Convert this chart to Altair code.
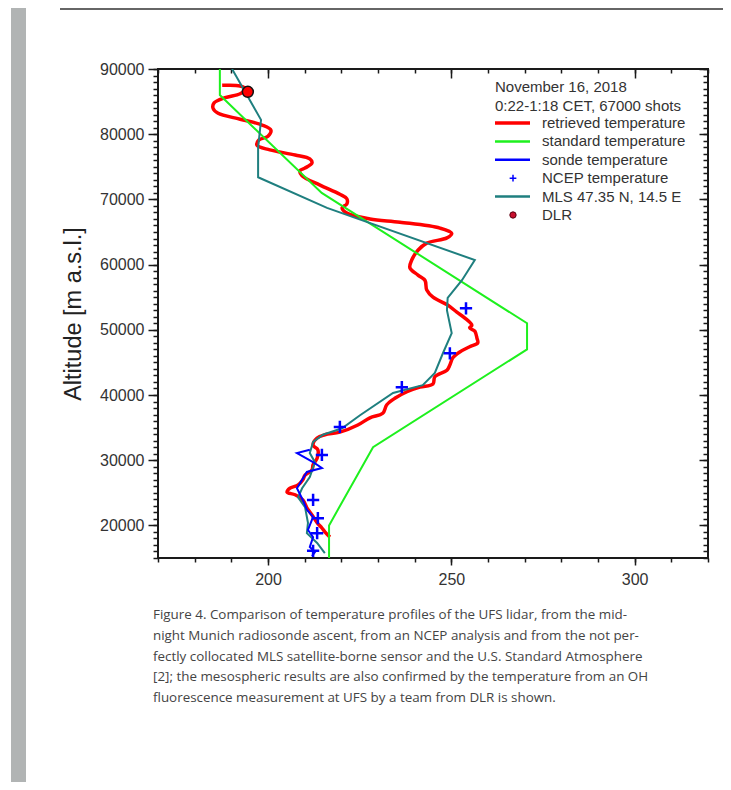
import altair as alt
import pandas as pd

# ---------------- data (temperature in K, altitude in m a.s.l.) ----------------
ret_T = [187.5, 192.4, 194.0, 192.4, 188.3, 185.3, 185.0, 186.4, 192.4, 198.4,
         200.8, 200.0, 197.5, 197.0, 200.5, 207.4, 211.4, 212.0, 210.1, 208.7,
         209.3, 214.2, 219.6, 221.5, 221.5, 220.2, 221.5, 227.8, 236.0, 246.9,
         250.1, 248.8, 243.3, 240.9, 239.2, 238.7, 240.9, 242.8, 243.3, 245.0,
         249.0, 251.5, 253.7, 255.6, 255.0, 256.4, 257.0, 257.2, 255.0, 252.3,
         250.4, 249.6, 248.8, 245.5, 245.0, 241.4, 237.9, 234.6, 232.4, 231.3,
         227.8, 224.5, 219.6, 215.5, 213.4, 212.3, 213.6, 213.4, 212.3, 212.0,
         210.1, 209.5, 208.2, 206.0, 205.2, 207.4, 209.5, 210.6, 212.0, 213.4,
         214.7, 215.5, 216.9]
ret_H = [87500, 87400, 86900, 86200, 85600, 84800, 84000, 83200, 82300, 81400,
         80600, 79700, 79100, 78300, 77600, 76800, 76200, 75600, 74800, 74400,
         73600, 72200, 70800, 70100, 69300, 68700, 67900, 67000, 66500, 65600,
         64800, 64100, 63300, 62200, 60700, 59500, 58400, 57600, 56100, 55000,
         53800, 52700, 51800, 50700, 50300, 49800, 48700, 48000, 47400, 46600,
         45700, 44600, 43800, 42800, 41700, 41200, 40500, 39500, 38500, 37200,
         36500, 35400, 34300, 33900, 33400, 32300, 31600, 30300, 29300, 28500,
         27700, 27000, 26200, 25700, 25100, 24700, 23900, 22700, 21600, 20400,
         19600, 19000, 18200]

std_T = [186.87, 186.87, 214.65, 270.65, 270.65, 228.65, 216.65, 216.65]
std_H = [90000, 86000, 71000, 51000, 47000, 32000, 20000, 15000]

sonde_T = [211.4, 207.9, 212.3, 214.7, 210.6, 209.3, 207.9, 209.5, 210.6, 212.3,
           210.9, 212.3, 211.4, 212.8, 212.0]
sonde_H = [31600, 31100, 29700, 28800, 28200, 27000, 25700, 23900, 22400, 21300,
           19300, 18200, 16700, 15900, 15300]

ncep_T = [254.0, 249.6, 236.5, 219.6, 214.7, 212.3, 213.6, 213.4, 212.3]
ncep_H = [53300, 46400, 41200, 35100, 30800, 23900, 21100, 18800, 16100]

mls_T = [190.2, 198.1, 197.3, 197.3, 216.1, 256.4, 252.9, 249.0, 248.8, 250.1,
         247.7, 245.5, 242.2, 234.1, 225.1, 220.2, 215.0, 212.3, 211.4, 212.8,
         211.4, 209.3, 208.2, 210.1, 210.9, 210.6, 213.4, 215.5]
mls_H = [90000, 82200, 77900, 73400, 68700, 60700, 57600, 54900, 53000, 49500,
         46400, 43400, 41500, 40300, 36900, 34900, 33900, 32800, 31100, 29700,
         27400, 25700, 24300, 22800, 20400, 18800, 17300, 15750]

dlr_T = [194.5]
dlr_H = [86500]

x_major = [200, 250, 300]
x_minor = list(range(170, 321, 10))
y_major = list(range(20000, 90001, 10000))
y_minor = list(range(15000, 90001, 1000))

legend_header = ["November 16, 2018", "0:22-1:18 CET, 67000 shots"]
legend_labels = ["retrieved temperature", "standard temperature", "sonde temperature",
                 "NCEP temperature", "MLS 47.35 N, 14.5 E", "DLR"]

caption = [
    "Figure 4. Comparison of temperature profiles of the UFS lidar, from the mid-",
    "night Munich radiosonde ascent, from an NCEP analysis and from the not per-",
    "fectly collocated MLS satellite-borne sensor and the U.S. Standard Atmosphere",
    "[2]; the mesospheric results are also confirmed by the temperature from an OH",
    "fluorescence measurement at UFS by a team from DLR is shown.",
]

# ---------------- styling ----------------
FONT = "Liberation Sans"
RED, GREEN, BLUE, TEAL = "#ff0000", "#1ef01e", "#0000ff", "#1f7f7f"
TICK = "#1a1a1a"
PLUS = "M -1 0 L 1 0 M 0 -1 L 0 1"


def frame(T, H):
    return pd.DataFrame({"T": T, "H": H, "i": list(range(len(T)))})


x_scale = alt.Scale(domain=[170, 320], nice=False, zero=False)
y_scale = alt.Scale(domain=[15000, 90000], nice=False, zero=False)


def ax(orient, values, size, offset=0, **kw):
    d = dict(orient=orient, values=values, tickSize=size, tickWidth=1.5,
             tickColor=TICK, labels=False, domain=False, grid=False, title=None,
             offset=offset)
    d.update(kw)
    return alt.Axis(**d)


ax_bottom_major = ax("bottom", x_major, 7, labels=True, labelFont=FONT,
                     labelFontSize=16, labelColor="#333", labelPadding=6, format="d")
ax_bottom_minor = ax("bottom", x_minor, 4)
ax_top_major = ax("top", x_major, 9, offset=-9)
ax_top_minor = ax("top", x_minor, 4, offset=-4)
ax_left_major = ax("left", y_major, 10, labels=True, labelFont=FONT,
                   labelFontSize=16, labelColor="#333", labelPadding=4, format="d",
                   title="Altitude [m a.s.l.]", titleFont=FONT, titleFontSize=23.5,
                   titleFontWeight="normal", titleColor="#222", titlePadding=14)
ax_left_minor = ax("left", y_minor, 5)
ax_right_major = ax("right", y_major, 9, offset=-9)
ax_right_minor = ax("right", y_minor, 5, offset=-5)


def profile(df, color, width, xa, ya, interp="linear"):
    return alt.Chart(df).mark_line(color=color, strokeWidth=width, clip=True,
                                   interpolate=interp).encode(
        x=alt.X("T:Q", scale=x_scale, axis=xa),
        y=alt.Y("H:Q", scale=y_scale, axis=ya),
        order="i:Q",
    )


red = profile(frame(ret_T, ret_H), RED, 3.5, ax_bottom_major, ax_left_major,
              "catmull-rom")
green = profile(frame(std_T, std_H), GREEN, 2, ax_bottom_minor, ax_left_minor)
teal = profile(frame(mls_T, mls_H), TEAL, 2, ax_top_major, ax_right_major)
blue = profile(frame(sonde_T, sonde_H), BLUE, 2, ax_top_minor, ax_right_minor)

ncep = alt.Chart(frame(ncep_T, ncep_H)).mark_point(
    shape=PLUS, size=150, strokeWidth=2.5, color=BLUE, filled=False, opacity=1
).encode(x=alt.X("T:Q", scale=x_scale, axis=None),
         y=alt.Y("H:Q", scale=y_scale, axis=None))

dlr = alt.Chart(frame(dlr_T, dlr_H)).mark_point(
    shape="circle", size=120, filled=True, fill=RED, stroke="#111",
    strokeWidth=1.5, opacity=1
).encode(x=alt.X("T:Q", scale=x_scale, axis=None),
         y=alt.Y("H:Q", scale=y_scale, axis=None))

one = pd.DataFrame({"k": [0]})
deco = []

# page decoration: grey side bar and top rule
deco.append(alt.Chart(one).mark_rect(color="#b1b4b4").encode(
    x=alt.value(-147), x2=alt.value(-132), y=alt.value(-61), y2=alt.value(713)))
deco.append(alt.Chart(one).mark_rule(color="#333", strokeWidth=1.5).encode(
    x=alt.value(-98), x2=alt.value(565), y=alt.value(-60)))

# legend (inside plot, top right)
LX_LINE0, LX_LINE1, LX_SYM, LX_TXT = 337, 372, 355, 384
for k, txt in enumerate(legend_header):
    deco.append(alt.Chart(one).mark_text(
        text=txt, align="left", baseline="middle", font=FONT, fontSize=15,
        color="#333").encode(x=alt.value(LX_LINE0), y=alt.value(18 + 19 * k)))

styles = [("line", RED, 3.5), ("line", GREEN, 2.5), ("line", BLUE, 2.5),
          ("plus", BLUE, 1.5), ("line", TEAL, 2.5), ("dot", "#c8102e", 1)]
for k, (lab, (kind, col, w)) in enumerate(zip(legend_labels, styles)):
    yy = 54 + 18.4 * k
    if kind == "line":
        deco.append(alt.Chart(one).mark_rule(color=col, strokeWidth=w).encode(
            x=alt.value(LX_LINE0), x2=alt.value(LX_LINE1), y=alt.value(yy)))
    elif kind == "plus":
        deco.append(alt.Chart(one).mark_point(
            shape=PLUS, size=45, strokeWidth=w, color=col, filled=False,
            opacity=1).encode(x=alt.value(LX_SYM), y=alt.value(yy)))
    else:
        deco.append(alt.Chart(one).mark_point(
            shape="circle", size=40, filled=True, fill=col, stroke="#5a0010",
            strokeWidth=1, opacity=1).encode(x=alt.value(LX_SYM), y=alt.value(yy)))
    deco.append(alt.Chart(one).mark_text(
        text=lab, align="left", baseline="middle", font=FONT, fontSize=15,
        color="#333").encode(x=alt.value(LX_TXT), y=alt.value(yy)))

# caption
for k, line in enumerate(caption):
    deco.append(alt.Chart(one).mark_text(
        text=line, align="left", baseline="middle", font="Open Sans",
        fontSize=13.4, color="#444").encode(x=alt.value(-5), y=alt.value(546 + 20.8 * k)))

chart = alt.layer(red, green, teal, blue, ncep, dlr, *deco).resolve_axis(
    x="independent", y="independent"
).properties(
    width=550, height=489,
    padding={"left": 150, "top": 61, "right": 15, "bottom": 224},
    autosize=alt.AutoSizeParams(type="none"),
    background="white",
).configure_view(stroke=TICK, strokeWidth=2)

chart.save("out.html", embed_options={"renderer": "svg", "actions": False})
